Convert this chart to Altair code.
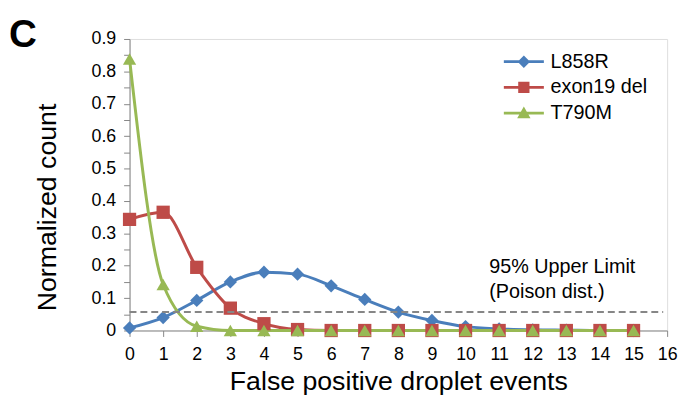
import altair as alt
import pandas as pd

events = list(range(16))
l858r = [0.008, 0.04, 0.093, 0.15, 0.18, 0.174, 0.138, 0.096, 0.057, 0.031, 0.012, 0.005, 0.002, 0.001, 0.0, 0.0]
exon19 = [0.343, 0.365, 0.195, 0.069, 0.021, 0.003, 0, 0, 0, 0, 0, 0, 0, 0, 0, 0]
t790m = [0.838, 0.142, 0.013, 0, 0, 0, 0, 0, 0, 0, 0, 0, 0, 0, 0, 0]
series = ["L858R", "exon19 del", "T790M"]
colors = ["#4A7EBB", "#BE4B48", "#98B954"]
limit = 0.057
annot = ["95% Upper Limit", "(Poison dist.)"]

rows = []
for name, vals in zip(series, [l858r, exon19, t790m]):
    for e, v in zip(events, vals):
        rows.append({"events": e, "value": v, "series": name})
df = pd.DataFrame(rows)

FONT = "Liberation Sans"
xs = alt.Scale(domain=[0, 16], nice=False)
ys = alt.Scale(domain=[0, 0.9], nice=False)

xax = alt.Axis(values=list(range(17)), format="d", grid=False, domainColor="#868686",
               tickColor="#868686", tickSize=6, labelFontSize=18, labelColor="#000",
               labelFont=FONT, labelPadding=9, title="False positive droplet events",
               titleFont=FONT, titleFontSize=27, titleFontWeight="normal", titleColor="#000",
               titlePadding=6, labelFlush=False, labelOverlap=False)
yax = alt.Axis(values=[round(i * 0.05, 2) for i in range(19)],
               labelExpr="round(datum.value*20) % 2 == 0 ? format(datum.value, '~g') : ''",
               grid=False, domainColor="#868686", tickColor="#868686", tickSize=6,
               labelFontSize=18, labelColor="#000", labelFont=FONT, labelPadding=8,
               title="Normalized count", titleFont=FONT, titleFontSize=27,
               titleFontWeight="normal", titleColor="#000", titlePadding=30, titleY=170,
               labelFlush=False, labelOverlap=False)

X = alt.X("events:Q", scale=xs, axis=xax)
Y = alt.Y("value:Q", scale=ys, axis=yax)

base = alt.Chart(df)
shapes = ["diamond", "square", "triangle-up"]
layers = []
for name, col in zip(series, colors):
    layers.append(
        base.transform_filter(alt.datum.series == name)
        .mark_line(interpolate="monotone", strokeWidth=3, color=col)
        .encode(x=X, y=Y)
    )
for name, shp, col in zip(series, shapes, colors):
    layers.append(
        base.transform_filter(alt.datum.series == name)
        .mark_point(shape=shp, filled=True, size=180, opacity=1, color=col)
        .encode(x=X, y=Y)
    )

rule = alt.Chart(pd.DataFrame({"y": [limit]})).mark_rule(
    color="#868686", strokeWidth=2, strokeDash=[7, 4]
).encode(y=alt.Y("y:Q", scale=ys, axis=yax), x=alt.value(0), x2=alt.value(540))

text = alt.Chart(pd.DataFrame({"t": annot, "ty": [0.196, 0.119]})).mark_text(
    align="left", font=FONT, fontSize=20, color="#000"
).encode(text="t:N", y=alt.Y("ty:Q", scale=ys, axis=yax), x=alt.value(364))

letter = alt.Chart(pd.DataFrame({"t": ["C"]})).mark_text(
    align="left", baseline="top", font=FONT, fontSize=39, fontWeight="bold", color="#000"
).encode(text="t:N", x=alt.value(-122), y=alt.value(-23))

leg_paths = [
    "M-1.35,-0.09L1.35,-0.09L1.35,0.09L-1.35,0.09Z M0,-0.42L0.42,0L0,0.42L-0.42,0Z",
    "M-1.35,-0.09L1.35,-0.09L1.35,0.09L-1.35,0.09Z M-0.38,-0.38L0.38,-0.38L0.38,0.38L-0.38,0.38Z",
    "M-1.35,-0.09L1.35,-0.09L1.35,0.09L-1.35,0.09Z M0,-0.45L0.45,0.35L-0.45,0.35Z",
]
leg = alt.Legend(title=None, orient="none", legendX=384, legendY=8, symbolSize=900,
                 labelFont=FONT, labelFontSize=20, labelColor="#000", labelOffset=12,
                 rowPadding=1, symbolStrokeWidth=0)
legdf = pd.DataFrame({"series": series, "events": [-5.0] * 3, "value": [-5.0] * 3})
legend_layer = alt.Chart(legdf).mark_point(filled=True, opacity=1, clip=True).encode(
    x=X, y=Y,
    color=alt.Color("series:N", scale=alt.Scale(domain=series, range=colors), legend=leg),
    shape=alt.Shape("series:N", scale=alt.Scale(domain=series, range=leg_paths), legend=leg),
)

chart = alt.layer(*layers, rule, text, letter, legend_layer).properties(
    width=544, height=295,
    autosize=alt.AutoSizeParams(type="none"),
    padding={"left": 123, "top": 29, "right": 12, "bottom": 70},
).configure_view(stroke=None).configure(background="white")

chart.save("out.html", embed_options={"renderer": "svg", "actions": False})
